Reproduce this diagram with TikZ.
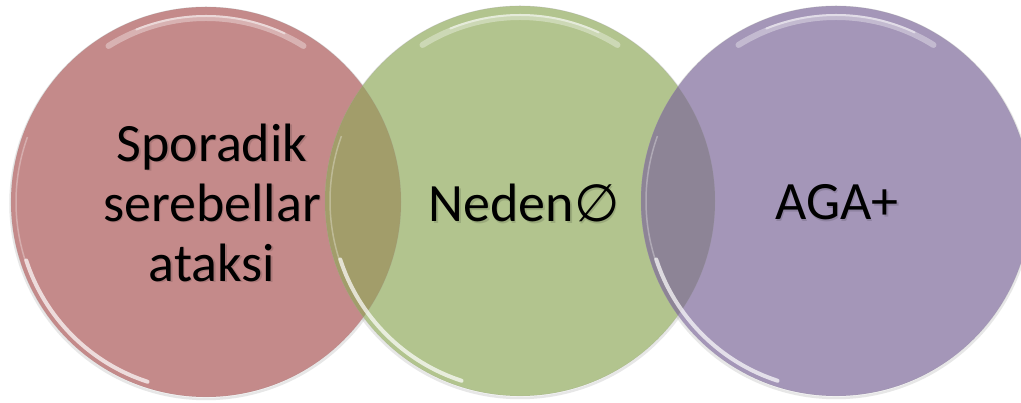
\documentclass[tikz,border=0pt]{standalone}
\usepackage{fontspec}
\setmainfont{Carlito}
\newfontfamily\symfont{DejaVu Sans}
\definecolor{cred}{RGB}{196,138,138}
\definecolor{cgreen}{RGB}{178,196,142}
\definecolor{cpurple}{RGB}{164,150,184}
\definecolor{crg}{RGB}{162,157,106}
\definecolor{cgp}{RGB}{141,132,150}
\begin{document}
\begin{tikzpicture}[x=1pt,y=1pt,
  disc/.style={circle, minimum size=390pt, inner sep=0pt},
  lbl/.style={font=\fontsize{54}{60}\selectfont, align=center, text=black},
  shd/.style={font=\fontsize{54}{60}\selectfont, align=center, text=black, opacity=0.13},
  hl/.style={white, line width=6pt, opacity=0.35, line cap=round},
  hlb/.style={white, line width=4pt, opacity=0.7, line cap=round}]
\useasboundingbox (0,0) rectangle (1021,403);
\fill[white] (0,0) rectangle (1021,403);
% soft outer shadows
\foreach \cx/\cy in {206/201,520/202,836/202}{
  \draw[black!30, opacity=0.3, line width=2.5pt] (\cx,\cy-1.5) circle (195.5);
}
% discs
\node[disc, fill=cred] (red) at (206,201) {};
\node[disc, fill=cgreen] (green) at (520,202) {};
\node[disc, fill=cpurple] (purple) at (836,202) {};
% overlaps
\begin{scope}
  \clip (206,201) circle (195);
  \fill[crg] (520,202) circle (195);
\end{scope}
\begin{scope}
  \clip (520,202) circle (195);
  \fill[cgp] (836,202) circle (195);
\end{scope}
% faint rims
\draw[black!40, opacity=0.2, line width=0.6pt] (red.center) circle (195);
\draw[black!40, opacity=0.2, line width=0.6pt] (green.center) circle (195);
\draw[black!40, opacity=0.2, line width=0.6pt] (purple.center) circle (195);
% glossy highlights
\foreach \cx/\cy in {206/201,520/202,836/202}{
  \draw[hl] ([shift={(58:184)}]\cx,\cy) arc (58:122:184);
  \draw[white, line width=2pt, opacity=0.5, line cap=round] ([shift={(65:186)}]\cx,\cy) arc (65:112:186);
  \draw[hlb] ([shift={(198:189)}]\cx,\cy) arc (198:252:189);
  \draw[white, line width=1.5pt, opacity=0.3] ([shift={(160:190)}]\cx,\cy) arc (160:198:190);
}
% text shadows
\node[shd] at (213.5,199) {Sporadik\\serebellar\\ataksi};
\node[shd] at (525.5,198) {Neden{\symfont\fontsize{52}{58}\selectfont ∅}};
\node[shd] at (838.5,199) {AGA+};
% labels
\node[lbl] (t1) at (212,200.5) {Sporadik\\serebellar\\ataksi};
\node[lbl] (t2) at (524,199.5) {Neden{\symfont\fontsize{52}{58}\selectfont ∅}};
\node[lbl] (t3) at (837,200.5) {AGA+};
\end{tikzpicture}
\end{document}
